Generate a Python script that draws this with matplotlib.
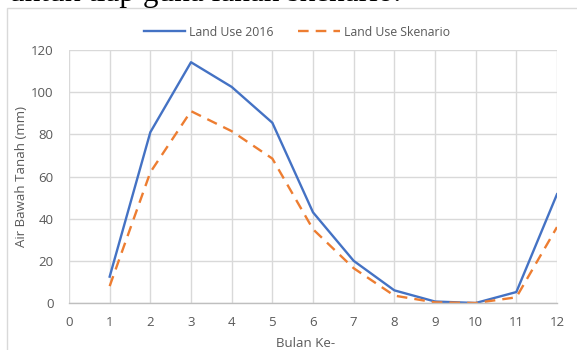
import matplotlib.pyplot as plt
from matplotlib.patches import Rectangle

plt.rcParams["font.family"] = ["Open Sans", "DejaVu Sans"]

bulan = [1, 2, 3, 4, 5, 6, 7, 8, 9, 10, 11, 12]
land_use_2016 = [12.5, 81, 114.2, 102.5, 85.5, 43, 20, 6, 0.7, 0, 5.2, 51.6]
land_use_skenario = [8, 62, 91, 81.5, 68.5, 35, 16.5, 3.5, 0.3, 0, 2.7, 36]

x_ticks = list(range(0, 13))
y_ticks = [0, 20, 40, 60, 80, 100, 120]

BLUE = "#4472C4"
ORANGE = "#ED7D31"
GRID = "#D9D9D9"
TEXT = "#595959"

fig = plt.figure(figsize=(5.77, 3.5), dpi=100)

# potongan kalimat dari halaman dokumen di atas grafik
fig.text(9 / 577, 1 - 0.5 / 350, "untuk tiap guna lahan skenario.",
         family=["Liberation Serif", "DejaVu Serif"], fontsize=22.5,
         color="black", va="baseline", ha="left")

# bingkai area grafik
fig.patches.append(Rectangle((7 / 577, -0.1), 1.2, 1 - 8 / 350 + 0.1,
                             transform=fig.transFigure, fill=False,
                             edgecolor="#D9D9D9", linewidth=1.0))

ax = fig.add_axes([69 / 577, 47 / 350, 488 / 577, 253 / 350])
ax.plot(bulan, land_use_2016, color=BLUE, lw=1.7, label="Land Use 2016")
ax.plot(bulan, land_use_skenario, color=ORANGE, lw=1.7,
        dashes=(4.5, 3), label="Land Use Skenario")

ax.set_xlim(0, 12)
ax.set_ylim(0, 120)
ax.set_xticks(x_ticks)
ax.set_yticks(y_ticks)
ax.grid(True, color=GRID, lw=1.0)
ax.set_axisbelow(True)
for side in ("left", "right", "top"):
    ax.spines[side].set_visible(False)
ax.spines["bottom"].set_color("#BFBFBF")
ax.spines["bottom"].set_linewidth(1.0)
ax.tick_params(length=0, labelsize=9.5, labelcolor=TEXT)
ax.tick_params(axis="x", pad=9)
ax.tick_params(axis="y", pad=11)

ax.set_xlabel("Bulan Ke-", fontsize=9.5, color=TEXT)
ax.set_ylabel("Air Bawah Tanah (mm)", fontsize=9.5, color=TEXT)
ax.xaxis.set_label_coords(0.484, -0.135)
ax.yaxis.set_label_coords(-0.083, 0.5)

fig.legend(loc="center", bbox_to_anchor=(297 / 577, 1 - 32 / 350), ncol=2,
           frameon=False, fontsize=8.8, labelcolor=TEXT, handlelength=3.4,
           handletextpad=0.35, columnspacing=2.0)

fig.savefig("out.png", dpi=100)
